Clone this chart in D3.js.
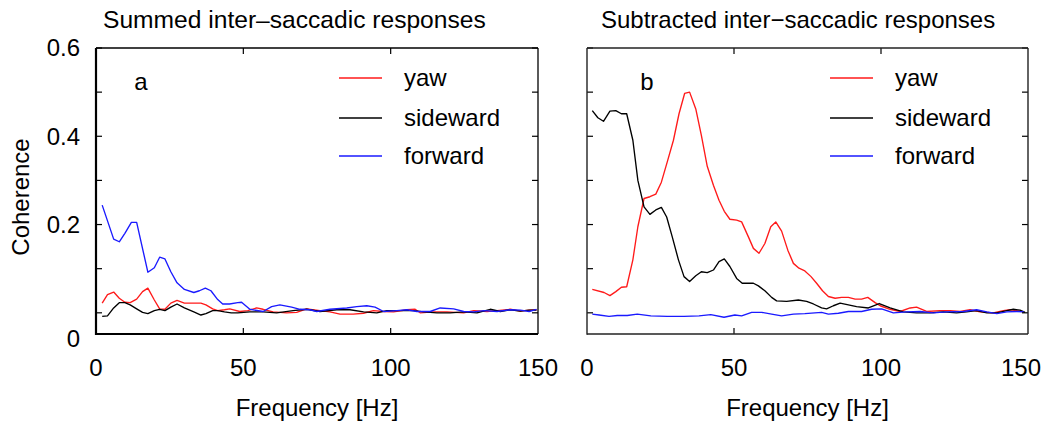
<!DOCTYPE html>
<html>
<head>
<meta charset="utf-8">
<script src="https://cdn.jsdelivr.net/npm/d3@7"></script>
<style>
  html, body { margin: 0; padding: 0; background: #fff; }
  svg { display: block; }
  text { font-family: "Liberation Sans", Arial, Helvetica, sans-serif; fill: #000; }
</style>
</head>
<body>
<svg id="chart" width="1042" height="421"></svg>
<script>
// Coherence spectra, [frequency in Hz, coherence]
const sumYaw = [[2.1,.022],[3.9,.041],[6.0,.047],[7.9,.033],[9.8,.024],[11.6,.023],[13.8,.031],[15.8,.048],[17.6,.056],[19.8,.029],[21.6,.009],[23.4,.008],[25.4,.022],[27.5,.028],[30.0,.022],[33.2,.022],[35.6,.022],[37.3,.018],[39.6,.009],[41.3,.005],[43.6,.007],[45.4,.009],[48.8,.003],[51.5,.005],[54.5,.011],[56.7,.008],[60.1,.002],[64.7,0],[68.1,.001],[71.5,.009],[76,.005],[79.4,.002],[82.8,-.003],[87.3,-.003],[90.8,-.001],[94.1,.005],[97.6,.003],[101,.002],[105.5,.007],[108.3,.008],[110,0],[114.6,.002],[119.1,.002],[124.8,0],[128.2,.005],[132.7,.003],[136.1,.005],[140.6,.008],[144,.004],[147,.006],[149.5,.007]];
const sumSide = [[2.1,-.008],[3.9,-.007],[6.0,.011],[7.9,.023],[9.8,.023],[11.6,.018],[13.8,.009],[15.8,.001],[17.6,-.002],[19.8,.005],[21.6,.008],[23.4,.005],[25.4,.013],[27.5,.020],[30,.011],[33.2,.002],[35.6,-.005],[37.3,-.002],[39.6,.005],[41.3,.005],[43.6,.002],[45.9,0],[48.1,0],[52.2,.002],[56.7,.002],[61.3,0],[66.9,.005],[71.5,.008],[76,.003],[81.7,.007],[86.2,.007],[90.8,.002],[95.3,0],[98.7,.005],[104.4,.005],[107.8,.005],[111.2,.002],[115.7,0],[120.2,0],[124.8,.002],[129.3,0],[133.8,.008],[137.2,.003],[140.6,.007],[144,.004],[147,.006],[149.5,.006]];
const sumFwd = [[2.1,.244],[6.0,.167],[7.9,.161],[9.8,.180],[12.0,.205],[13.8,.205],[17.6,.092],[19.8,.102],[21.6,.126],[23.4,.122],[25.4,.093],[27.5,.068],[30.0,.053],[33.2,.046],[35.1,.050],[37.1,.056],[39.0,.050],[41.3,.030],[43.0,.020],[45.3,.020],[48.1,.023],[49.4,.024],[52.2,.008],[56.7,.003],[59.6,.014],[62.4,.018],[66.4,.013],[69.2,.008],[72.6,.007],[74.9,.003],[79.4,.008],[85.1,.011],[88.5,.014],[91.9,.016],[94.7,.013],[97.6,.003],[102.1,.005],[105.5,.007],[108.9,.003],[113.4,.003],[116.8,.011],[121.4,.009],[124.8,.003],[128.2,.002],[131.6,.005],[136.1,.003],[140.6,.007],[144,.006],[147,.003],[149.5,.008]];

const subYaw = [[1.8,.053],[5.8,.046],[7.8,.039],[9.8,.048],[11.7,.058],[13.5,.059],[15.6,.120],[17.3,.195],[19.4,.259],[21.4,.263],[23.4,.269],[25.3,.296],[27.3,.342],[29.4,.391],[31.3,.451],[33.2,.497],[34.9,.500],[37.0,.462],[38.9,.402],[40.9,.332],[43.0,.289],[44.9,.255],[46.7,.230],[48.6,.212],[50.9,.210],[52.6,.206],[54.9,.172],[56.6,.146],[58.5,.135],[60.5,.157],[62.5,.195],[64.2,.206],[66.2,.185],[68.3,.142],[70.2,.112],[72.1,.101],[74.1,.095],[76.2,.082],[78.1,.067],[80.1,.050],[82.1,.037],[84.4,.033],[86.6,.035],[88.9,.035],[91.2,.031],[93.4,.031],[95.5,.035],[98,.023],[99.7,.016],[103.1,.008],[106.5,.003],[109.9,.011],[112.1,.013],[115.5,.003],[120.1,.005],[123.5,.005],[126.9,.003],[130.3,.007],[133.7,.002],[138.2,0],[141.6,.005],[143.9,.007],[146.2,.005],[148.6,.002]];
const subSide = [[1.8,.458],[3.7,.442],[5.6,.434],[7.8,.457],[9.8,.458],[11.7,.451],[13.5,.451],[15.6,.391],[17.3,.300],[19.4,.240],[21.4,.223],[23.4,.233],[25.3,.239],[27.1,.217],[29.0,.172],[31.1,.120],[33.0,.082],[34.9,.071],[37.0,.084],[38.9,.093],[40.9,.091],[43.0,.097],[44.9,.116],[46.7,.122],[48.6,.105],[50.9,.078],[52.8,.067],[56.6,.067],[58.3,.061],[60.5,.050],[62.8,.035],[64.5,.027],[67.9,.026],[71.9,.029],[74.7,.026],[77,.020],[79.8,.011],[81.5,.009],[83.8,.016],[86.1,.022],[88.9,.018],[91.7,.014],[95.7,.011],[99.4,.021],[103.1,.011],[107.6,.002],[112.1,0],[116.7,0],[121.2,.002],[125.7,0],[129.1,.002],[132.5,.005],[136,0],[139.4,0],[142.8,.005],[145,.008],[147.3,.006],[149,.001]];
const subFwd = [[1.8,-.003],[4.1,-.005],[7.5,-.008],[10.3,-.006],[13.7,-.006],[17.1,-.003],[21.7,-.007],[27.3,-.008],[33,-.008],[38.1,-.007],[42.1,-.004],[46.6,-.010],[50.3,-.005],[52.6,-.007],[56,.001],[59.4,.001],[62.8,-.003],[66.2,-.007],[70.2,-.003],[74.1,-.002],[79.8,.001],[82.1,-.003],[85.5,-.001],[88.9,.003],[93.4,.003],[96.8,.008],[100.2,.009],[104.2,0],[108.7,.002],[113.3,.003],[117.8,0],[122.3,.002],[128,.003],[132.5,.007],[136,.002],[139.4,-.002],[142.8,.002],[146.2,.003],[148.6,.002]];

const seriesNames = ["yaw", "sideward", "forward"];
const seriesColors = ["#ff1a1a", "#000000", "#1a1aff"];
const panelTitles = ["Summed inter\u2013saccadic responses", "Subtracted inter\u2212saccadic responses"];
const panelLetters = ["a", "b"];
const xTicks = [0, 50, 100, 150];
const yTicks = [0, 0.1, 0.2, 0.3, 0.4, 0.5, 0.6];
const yTickLabels = [[0.6, "0.6"], [0.4, "0.4"], [0.2, "0.2"]];

const W = 1042;
const svg = d3.select("#chart");
const plotTop = 48, plotBottom = 334;
const y = d3.scaleLinear().domain([-0.048, 0.6]).range([plotBottom, plotTop]);

const panels = [
  { x0: 96, x1: 538, data: [sumYaw, sumSide, sumFwd], titleX: 103, titleSize: 24.6, letterX: 141, yAxis: true, heavy: true },
  { x0: 587, x1: 1028, data: [subYaw, subSide, subFwd], titleX: 601, titleSize: 24, letterX: 647, yAxis: false, heavy: false }
];

panels.forEach((p, pi) => {
  const x = d3.scaleLinear().domain([0, 150]).range([p.x0, p.x1]);
  const g = svg.append("g");

  // data lines
  const line = d3.line().x(d => x(d[0])).y(d => y(d[1]));
  p.data.forEach((s, si) => {
    g.append("path").datum(s)
      .attr("d", line)
      .attr("fill", "none")
      .attr("stroke", seriesColors[si])
      .attr("stroke-width", 1.35)
      .attr("stroke-linejoin", "round");
  });

  // inward ticks on all four sides
  const tickLen = 6;
  const tk = g.append("g").attr("stroke", "#000").attr("stroke-width", 1.2);
  yTicks.forEach(v => {
    tk.append("line").attr("x1", p.x0).attr("x2", p.x0 + tickLen).attr("y1", y(v)).attr("y2", y(v));
    tk.append("line").attr("x1", p.x1).attr("x2", p.x1 - tickLen).attr("y1", y(v)).attr("y2", y(v));
  });
  xTicks.slice(1, -1).forEach(v => {
    tk.append("line").attr("x1", x(v)).attr("x2", x(v)).attr("y1", plotTop).attr("y2", plotTop + tickLen);
    tk.append("line").attr("x1", x(v)).attr("x2", x(v)).attr("y1", plotBottom).attr("y2", plotBottom - tickLen);
  });

  // frame
  const frameColor = p.heavy ? "#000" : "#222";
  const thin = p.heavy ? 1.3 : 1.4;
  const thick = p.heavy ? 2.2 : 1.4;
  g.append("line").attr("x1", p.x0).attr("x2", p.x1).attr("y1", plotTop).attr("y2", plotTop).attr("stroke", frameColor).attr("stroke-width", thin);
  g.append("line").attr("x1", p.x1).attr("x2", p.x1).attr("y1", plotTop).attr("y2", plotBottom).attr("stroke", frameColor).attr("stroke-width", thin);
  g.append("line").attr("x1", p.x0).attr("x2", p.x0).attr("y1", plotTop).attr("y2", plotBottom + thick / 2).attr("stroke", frameColor).attr("stroke-width", thick);
  g.append("line").attr("x1", p.x0).attr("x2", p.x1).attr("y1", plotBottom).attr("y2", plotBottom).attr("stroke", frameColor).attr("stroke-width", thick);

  // x tick labels (kept inside the page) and axis title
  xTicks.forEach(v => {
    const t = g.append("text").attr("x", x(v)).attr("y", 368).attr("dy", "0.35em")
      .attr("text-anchor", "middle").style("font-size", "24px").text(v);
    const half = t.node().getComputedTextLength() / 2;
    if (x(v) + half > W - 1) t.attr("x", W - 1 - half);
  });
  g.append("text").attr("x", (p.x0 + p.x1) / 2).attr("y", 408).attr("dy", "0.35em")
    .attr("text-anchor", "middle").style("font-size", "24px").text("Frequency [Hz]");

  // panel title and letter
  g.append("text").attr("x", p.titleX).attr("y", 28).style("font-size", p.titleSize + "px").text(panelTitles[pi]);
  g.append("text").attr("x", p.letterX).attr("y", 82).attr("dy", "0.35em")
    .attr("text-anchor", "middle").style("font-size", "24px").text(panelLetters[pi]);

  // legend
  const rows = [78, 118, 156];
  seriesNames.forEach((name, si) => {
    g.append("line").attr("x1", p.x0 + 243).attr("x2", p.x0 + 286)
      .attr("y1", rows[si]).attr("y2", rows[si])
      .attr("stroke", seriesColors[si]).attr("stroke-width", 1.35);
    g.append("text").attr("x", p.x0 + 308).attr("y", rows[si]).attr("dy", "0.35em")
      .style("font-size", "24px").text(name);
  });

  // y axis labels
  if (p.yAxis) {
    yTickLabels.forEach(([v, t]) => {
      g.append("text").attr("x", 80).attr("y", y(v)).attr("dy", "0.35em")
        .attr("text-anchor", "end").style("font-size", "24px").text(t);
    });
    g.append("text").attr("x", 80).attr("y", y.range()[0] + 5).attr("dy", "0.35em")
      .attr("text-anchor", "end").style("font-size", "24px").text("0");
    g.append("text").attr("transform", "translate(21,197) rotate(-90)")
      .attr("dy", "0.35em").attr("text-anchor", "middle").style("font-size", "24px").text("Coherence");
  }
});
</script>
</body>
</html>
